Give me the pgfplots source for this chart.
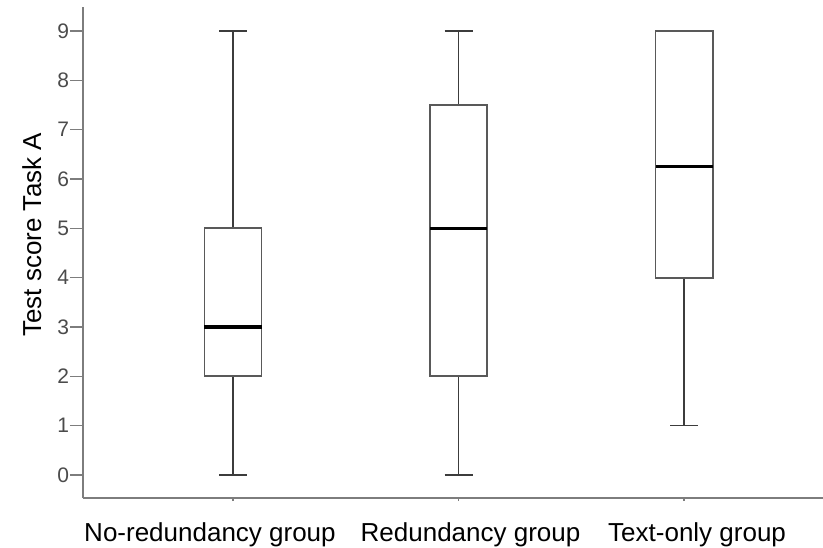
\documentclass[border=0pt]{standalone}
\usepackage{fontspec}
\setmainfont{Liberation Sans}
\usepackage{pgfplots}
\usepgfplotslibrary{statistics}
\pgfplotsset{compat=1.18}
\definecolor{axgray}{RGB}{125,125,125}
\definecolor{lblgray}{RGB}{75,75,75}
\definecolor{boxgray}{RGB}{60,60,60}
\begin{document}
\begin{tikzpicture}
\begin{axis}[
  scale only axis, width=370pt, height=245.5pt,
  xmin=0.335, xmax=3.616, ymin=-0.47, ymax=9.49,
  axis x line=bottom, axis y line=left,
  axis line style={-, draw=axgray, line width=0.7pt},
  /pgf/number format/assume math mode=true,
  ytick={0,1,2,3,4,5,6,7,8,9},
  xtick={1,2,3},
  xticklabels={{No-redundancy group\hspace*{23pt}},{\hspace*{12pt}Redundancy group},{\hspace*{13pt}Text-only group}},
  tick align=outside,
  major tick length=6.5pt,
  y tick style={draw=axgray, line width=0.7pt},
  x tick style={draw=axgray, line width=0.7pt, /pgfplots/major tick length=1.5pt},
  yticklabel style={font=\fontsize{10.5}{12}\selectfont, text=lblgray, inner sep=0.3pt},
  xticklabel style={font=\fontsize{13}{15}\selectfont, text=black, inner sep=0pt, yshift=-5.5pt},
  ylabel={Test score Task A},
  ylabel style={font=\fontsize{13}{15}\selectfont, at={(axis description cs:-0.069,0.536)}, anchor=center},
  boxplot/draw direction=y,
  boxplot/box extend=0.253,
  boxplot/whisker extend=0.124,
  boxplot/every box/.style={draw=boxgray!85, line width=0.9pt},
  boxplot/every whisker/.style={draw=boxgray, line width=0.9pt},
  boxplot/every median/.style={draw=black, line width=1.6pt},
]
\addplot[draw=boxgray, line width=0.9pt, solid,
  boxplot prepared={lower whisker=0, lower quartile=2, median=3, upper quartile=5, upper whisker=9, draw position=1}]
  coordinates {};
\addplot[draw=boxgray, line width=0.9pt, solid,
  boxplot prepared={lower whisker=0, lower quartile=2, median=5, upper quartile=7.5, upper whisker=9, draw position=2}]
  coordinates {};
\addplot[draw=boxgray, line width=0.9pt, solid,
  boxplot prepared={lower whisker=1, lower quartile=4, median=6.25, upper quartile=9, upper whisker=9, draw position=3}]
  coordinates {};
\end{axis}
\pgfresetboundingbox
\path (current axis.south west) ++(-41.5pt,-24.5pt) coordinate (bl);
\path (current axis.north east) ++(0pt,3.5pt) coordinate (tr);
\path[use as bounding box] (bl) rectangle (tr);
\end{tikzpicture}
\end{document}
